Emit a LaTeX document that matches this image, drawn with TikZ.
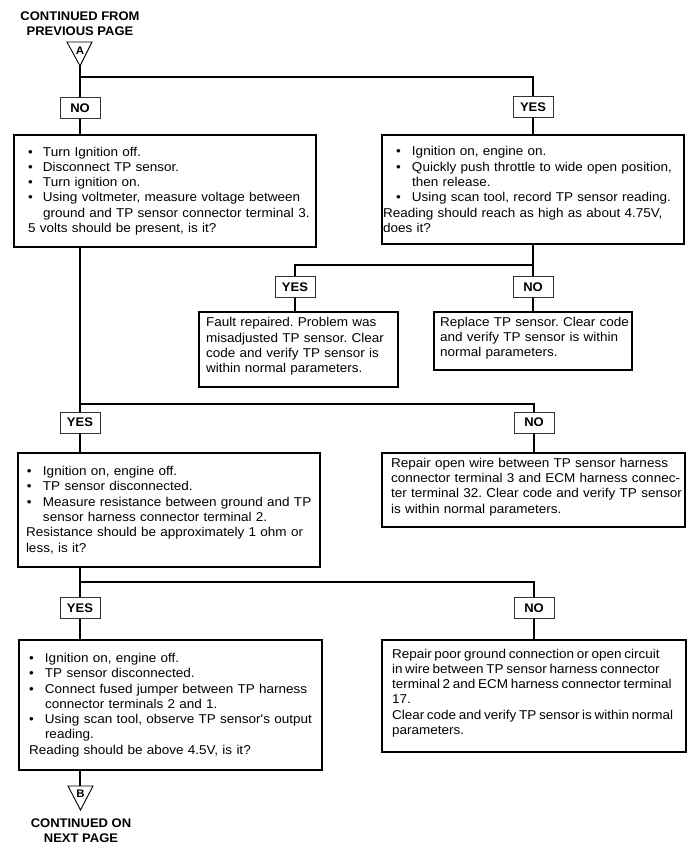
\documentclass[tikz,border=0pt]{standalone}
\usepackage{fontspec}
\newfontfamily\bodyfont{Liberation Sans}[FakeStretch=1.055]
\newfontfamily\headfont{Liberation Sans}[FakeStretch=1.04]
\newcommand\pad[1]{\frenchspacing\leftskip=#1\relax\rightskip=-40pt plus 1fil\relax\hyphenpenalty=10000\relax}
\newcommand\bitem[3]{\par\hangindent=#2\hangafter=1\noindent\makebox[#2][l]{\hspace{#1}\textbullet}#3\par}
\newcommand\tailsp{\par\kern6pt}
\begin{document}
\begin{tikzpicture}[x=1pt,y=-1pt,
  lbl/.style={draw=black!80, line width=0.8pt, minimum width=40pt, minimum height=21pt, inner sep=0pt,
    font=\headfont\bfseries\fontsize{12.5}{15}\selectfont},
  box/.style={draw, line width=1.1pt, inner xsep=0pt, inner ysep=0pt, align=left,
    font=\bodyfont\fontsize{12.8}{15.3}\selectfont},
  cont/.style={align=center, inner sep=0pt, font=\headfont\bfseries\fontsize{12.5}{15}\selectfont},
  tri/.style={line width=0.9pt},
  trilbl/.style={inner sep=0pt, font=\headfont\bfseries\fontsize{11}{12}\selectfont},
  conn/.style={line width=1.1pt}]
\useasboundingbox (0,0) rectangle (700,853);

% top connector
\node[cont] (contA) at (80,24) {CONTINUED FROM\\PREVIOUS PAGE};
\coordinate (Atl) at (67,42);
\coordinate (Atr) at (92,42);
\coordinate (Aapex) at (80,66);
\draw[tri] (Atl) -- (Atr) -- (Aapex) -- cycle;
\node[trilbl] (Alet) at (80,50.5) {A};

% first level
\node[lbl] (no1) at (80,108) {NO};
\node[lbl] (yes1) at (533,107) {YES};
\coordinate (j1) at (533,77);

\node[box, text width=302pt, minimum height=112pt] (b1) at (165,191) {\pad{14pt}%
\bitem{0pt}{15pt}{Turn Ignition off.}%
\bitem{0pt}{15pt}{Disconnect TP sensor.}%
\bitem{0pt}{15pt}{Turn ignition on.}%
\bitem{0pt}{15pt}{Using voltmeter, measure voltage between\newline ground and TP sensor connector terminal 3.}%
5 volts should be present, is it?\tailsp};

\node[box, text width=302pt, minimum height=109pt] (b2) at (533,189.5) {\pad{1pt}%
\bitem{13pt}{29pt}{Ignition on, engine on.}%
\bitem{13pt}{29pt}{Quickly push throttle to wide open position,\newline then release.}%
\bitem{13pt}{29pt}{Using scan tool, record TP sensor reading.}%
Reading should reach as high as about 4.75V,\newline does it?\tailsp};

% second level (right)
\coordinate (j2) at (533,265);
\node[lbl] (yes2) at (295,287) {YES};
\node[lbl] (no2) at (533,287) {NO};
\node[box, text width=199pt, minimum height=75pt] (b2a) at (298.5,349.5) {\pad{7pt}%
Fault repaired. Problem was\newline misadjusted TP sensor. Clear\newline code and verify TP sensor is\newline within normal parameters.\tailsp};
\node[box, text width=198pt, minimum height=58pt] (b2b) at (533,341) {\pad{6pt}%
Replace TP sensor. Clear code\newline and verify TP sensor is within\newline normal parameters.\tailsp};

% third level
\coordinate (j3) at (534,404);
\node[lbl] (yes3) at (80,422.5) {YES};
\node[lbl] (no3) at (534,422.5) {NO};
\node[box, text width=302pt, minimum height=114pt] (b3) at (169,510) {\pad{8pt}%
\bitem{1pt}{17pt}{Ignition on, engine off.}%
\bitem{1pt}{17pt}{TP sensor disconnected.}%
\bitem{1pt}{17pt}{Measure resistance between ground and TP\newline sensor harness connector terminal 2.}%
Resistance should be approximately 1 ohm or\newline less, is it?\tailsp};
\node[box, text width=303pt, minimum height=74pt] (b4) at (533.5,490) {\pad{9pt}%
Repair open wire between TP sensor harness\newline connector terminal 3 and ECM harness connec-\newline ter terminal 32. Clear code and verify TP sensor\newline is within normal parameters.\tailsp};

% fourth level
\coordinate (j4) at (534,582);
\node[lbl] (yes4) at (80,608) {YES};
\node[lbl] (no4) at (534,608) {NO};
\node[box, text width=303pt, minimum height=130pt] (b5) at (170.5,705) {\pad{10pt}%
\bitem{0pt}{16pt}{Ignition on, engine off.}%
\bitem{0pt}{16pt}{TP sensor disconnected.}%
\bitem{0pt}{16pt}{Connect fused jumper between TP harness\newline connector terminals 2 and 1.}%
\bitem{0pt}{16pt}{Using scan tool, observe TP sensor's output\newline reading.}%
Reading should be above 4.5V, is it?\tailsp};
\node[box, text width=304pt, minimum height=112pt] (b6) at (534,696) {\pad{10pt}\spaceskip=0.21em\relax
Repair poor ground connection or open circuit\newline in wire between TP sensor harness connector\newline terminal 2 and ECM harness connector terminal\newline 17.\par
Clear code and verify TP sensor is within normal\newline parameters.\tailsp};

% bottom connector
\coordinate (Btl) at (68,786);
\coordinate (Btr) at (93,786);
\coordinate (Bapex) at (80.5,810);
\coordinate (Btop) at (80,786);
\draw[tri] (Btl) -- (Btr) -- (Bapex) -- cycle;
\node[trilbl] (Blet) at (80.5,794) {B};
\node[cont] (contB) at (81,831) {CONTINUED ON\\NEXT PAGE};

% connectors
\draw[conn] (Aapex) -- (no1.north);
\draw[conn] (no1.north |- j1) -- (j1) -- (yes1.north);
\draw[conn] (no1.south) -- (no1.south |- b1.north);
\draw[conn] (yes1.south) -- (yes1.south |- b2.north);
\draw[conn] (b2.south) -- (no2.north);
\draw[conn] (yes2.north) |- (j2);
\draw[conn] (yes2.south) -- (yes2.south |- b2a.north);
\draw[conn] (no2.south) -- (no2.south |- b2b.north);
\draw[conn] (yes3.north |- b1.south) -- (yes3.north);
\draw[conn] (yes3.north |- j3) -- (j3) -- (no3.north);
\draw[conn] (yes3.south) -- (yes3.south |- b3.north);
\draw[conn] (no3.south) -- (no3.south |- b4.north);
\draw[conn] (yes4.north |- b3.south) -- (yes4.north);
\draw[conn] (yes4.north |- j4) -- (j4) -- (no4.north);
\draw[conn] (yes4.south) -- (yes4.south |- b5.north);
\draw[conn] (no4.south) -- (no4.south |- b6.north);
\draw[conn] (Btop |- b5.south) -- (Btop);
\end{tikzpicture}
\end{document}
